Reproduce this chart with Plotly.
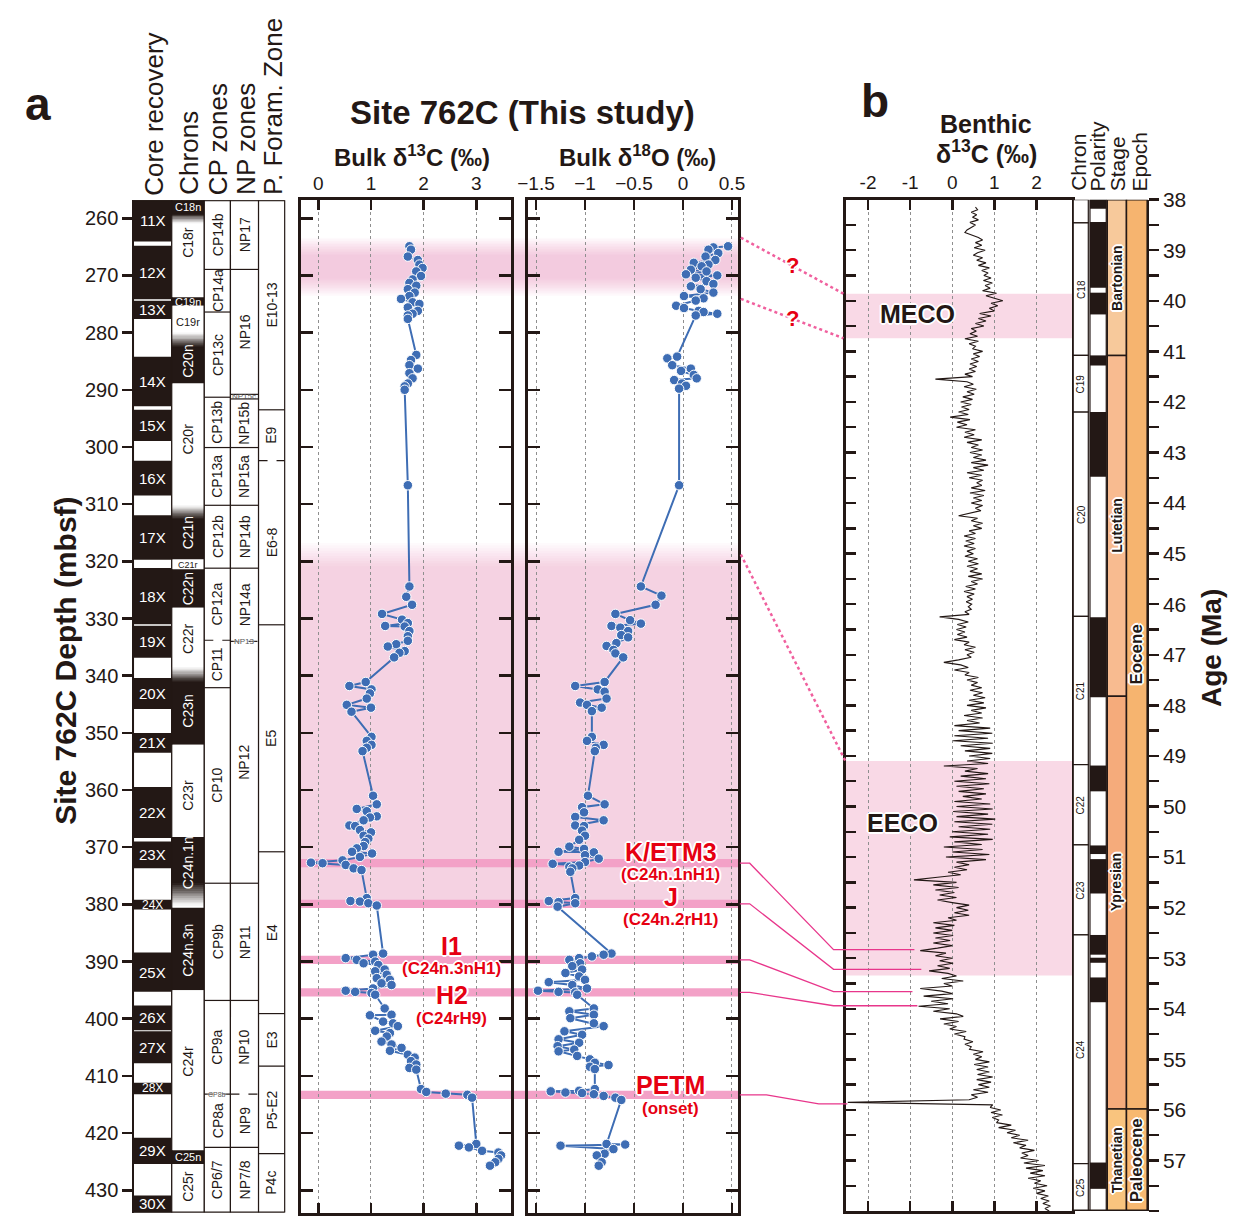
import plotly.graph_objects as go

W, H = 1239, 1220
FONT = "Liberation Sans, Arial, sans-serif"
K = "#231815"
BLUE = "#3e6db4"
RED = "#e60012"
LINK = "#e8368b"
DOTC = "#f0609e"

# ---------------- data : panel a (Site 762C) ----------------
c13_depth = [264.9, 265.5, 266.7, 267.3, 268.1, 268.7, 269.3, 270.1, 270.7, 271.3, 271.8, 272.4, 273.0, 273.6, 274.1, 274.7, 275.0, 275.6, 276.2, 276.7, 277.0, 277.6,
             283.9, 284.8, 285.7, 286.3, 287.1, 288.0, 288.9, 289.4, 290.0, 306.7,
             324.4, 326.2, 327.6, 329.2, 330.2, 330.8, 331.3, 331.4, 332.2, 333.1, 333.9, 334.5, 334.9, 335.7, 336.0, 336.8,
             341.1, 341.8, 342.4, 343.1, 344.0, 345.1, 345.6, 346.3, 350.7, 351.4, 352.1, 352.6, 353.2,
             361.0, 362.5, 363.3, 363.7, 364.6, 364.8, 365.3, 366.2, 366.3, 367.0, 367.4, 368.0, 368.5, 369.1, 369.8, 370.2, 370.8, 371.1, 371.7, 372.3, 372.7, 372.8, 373.1, 373.7, 374.0,
             378.9, 379.4, 379.5, 379.8, 380.2,
             388.6, 388.8, 389.4, 389.7, 390.0, 390.3, 390.6, 391.4, 391.7, 392.3, 392.9, 393.2, 393.8, 394.1, 394.7, 395.1, 395.3, 395.5, 395.8,
             398.2, 399.3, 399.4, 400.5, 400.8, 401.3, 402.1, 402.5, 403.1, 404.0, 404.5, 405.1, 405.6, 406.3, 406.8, 407.4, 408.0, 408.6, 408.9,
             412.3, 412.8, 413.1, 413.3, 413.8,
             421.9, 422.2, 422.5, 423.1, 423.4, 423.9, 424.5, 425.1, 425.7]
c13_value = [1.73, 1.76, 1.70, 1.89, 1.92, 1.98, 1.86, 1.95, 1.79, 1.73, 1.86, 1.70, 1.83, 1.73, 1.57, 1.79, 1.92, 1.70, 1.89, 1.79, 1.70, 1.70,
             1.86, 1.76, 1.73, 1.89, 1.73, 1.79, 1.70, 1.64, 1.64, 1.70,
             1.73, 1.67, 1.78, 1.21, 1.59, 1.70, 1.27, 1.64, 1.73, 1.70, 1.70, 1.48, 1.32, 1.64, 1.54, 1.44,
             0.90, 0.59, 1.01, 0.98, 0.92, 0.54, 1.00, 0.63, 1.01, 0.92, 1.01, 0.92, 0.84,
             1.04, 1.11, 0.73, 0.92, 1.11, 0.98, 0.86, 0.59, 0.70, 0.79, 1.00, 0.86, 0.95, 0.89, 0.86, 0.73, 0.64, 1.02, 0.79, 0.46, -0.14, 0.08, 0.52, 0.67, 0.82,
             0.92, 0.61, 0.79, 0.95, 1.11,
             1.23, 1.04, 0.52, 0.73, 1.08, 0.86, 1.14, 1.26, 1.08, 1.30, 1.11, 1.36, 1.20, 1.39, 1.04, 0.52, 0.70, 1.01, 1.08,
             1.26, 1.39, 0.98, 1.23, 1.42, 1.51, 1.08, 1.36, 1.30, 1.20, 1.39, 1.58, 1.36, 1.70, 1.83, 1.76, 1.86, 1.73, 1.86,
             1.95, 2.05, 2.42, 2.83, 2.92,
             3.00, 2.67, 2.86, 3.11, 3.42, 3.47, 3.42, 3.36, 3.26]

o18_depth = [264.9, 265.1, 265.5, 266.1, 266.7, 267.3, 267.8, 268.1, 268.4, 269.0, 269.3, 269.8, 270.0, 270.4, 271.0, 271.5, 271.9, 272.4, 273.0, 273.6, 274.0, 274.4, 275.3, 275.7, 276.2, 276.4, 276.7, 277.0,
             284.2, 284.5, 285.7, 286.3, 286.7, 287.4, 288.0, 288.3, 288.9, 289.3, 289.8, 306.7,
             324.4, 326.0, 327.6, 329.2, 330.3, 330.9, 331.3, 331.6, 332.2, 332.9, 333.3, 334.3, 334.8, 335.5, 336.1, 336.8,
             341.1, 341.8, 342.4, 342.8, 344.0, 344.7, 345.1, 345.6, 346.2, 350.7, 351.4, 352.1, 352.6, 353.2,
             361.0, 362.5, 363.0, 363.9, 364.7, 365.3, 366.2, 366.3, 367.1, 368.0, 368.7, 369.9, 370.3, 370.8, 370.9, 371.4, 372.0, 372.6, 372.9, 373.2, 373.4, 373.7, 374.3,
             378.9, 379.4, 379.6, 379.8, 380.4,
             388.6, 388.8, 389.1, 389.4, 389.7, 390.3, 390.8, 391.4, 392.0, 392.6, 393.2, 393.6, 394.1, 394.7, 395.1, 395.3, 395.4, 395.8,
             398.2, 398.7, 399.3, 399.9, 400.8, 401.3, 402.2, 402.8, 403.6, 404.2, 404.8, 405.4, 405.7, 406.5, 407.1, 407.7, 408.1, 408.4, 408.8,
             412.3, 412.6, 412.7, 412.9, 413.0, 413.2, 413.5, 413.8, 414.2,
             421.9, 422.0, 422.2, 422.8, 423.6, 423.9, 425.1, 425.7]
o18_value = [0.46, 0.31, 0.26, 0.36, 0.23, 0.33, 0.11, 0.26, 0.19, 0.08, 0.24, 0.03, 0.35, 0.13, 0.24, 0.31, 0.08, 0.18, 0.31, 0.01, 0.21, 0.13, -0.07, 0.01, 0.16, 0.21, 0.35, 0.13,
             -0.06, -0.16, -0.11, 0.08, -0.02, 0.11, 0.14, -0.09, -0.01, 0.03, -0.04, -0.04,
             -0.43, -0.22, -0.28, -0.69, -0.54, -0.43, -0.73, -0.64, -0.56, -0.63, -0.56, -0.68, -0.78, -0.71, -0.69, -0.61,
             -0.80, -1.10, -0.87, -0.80, -0.78, -1.05, -0.98, -0.83, -0.93, -0.93, -0.98, -0.81, -0.89, -0.90,
             -0.97, -0.80, -1.03, -1.01, -1.10, -0.81, -1.10, -1.01, -1.03, -1.00, -1.06, -1.16, -1.01, -1.27, -0.91, -1.00, -0.86, -1.00, -1.33, -1.06, -1.16, -1.13, -1.15,
             -1.10, -1.37, -1.27, -1.10, -1.28,
             -0.73, -0.81, -0.93, -1.06, -1.16, -1.05, -1.13, -1.03, -1.20, -1.06, -1.00, -1.37, -1.13, -0.98, -1.48, -1.27, -1.10, -1.08,
             -0.91, -1.16, -0.91, -1.15, -0.91, -0.81, -1.21, -1.03, -1.27, -1.06, -1.28, -1.11, -1.27, -1.08, -0.95, -0.90, -0.76, -0.95, -0.90,
             -0.90, -1.06, -1.35, -1.20, -1.03, -0.91, -0.81, -0.69, -0.63,
             -0.78, -0.59, -1.25, -0.71, -0.80, -0.88, -0.83, -0.86]

# ---------------- data : panel b (benthic d13C vs age, Ma) ----------------
ben_age = [38.15, 38.20, 38.25, 38.30, 38.35, 38.40, 38.45, 38.50, 38.55, 38.60,
           38.65, 38.70, 38.75, 38.80, 38.85, 38.90, 38.95, 39.00, 39.05, 39.10,
           39.15, 39.20, 39.25, 39.30, 39.35, 39.40, 39.45, 39.50, 39.55, 39.60,
           39.65, 39.70, 39.75, 39.80, 39.85, 39.90, 39.95, 40.00, 40.05, 40.10,
           40.15, 40.20, 40.25, 40.30, 40.35, 40.40, 40.45, 40.50, 40.55, 40.60,
           40.65, 40.70, 40.75, 40.80, 40.85, 40.90, 40.95, 41.00, 41.05, 41.10,
           41.15, 41.20, 41.25, 41.30, 41.35, 41.40, 41.45, 41.50, 41.55, 41.60,
           41.65, 41.70, 41.75, 41.80, 41.85, 41.90, 41.95, 42.00, 42.05, 42.10,
           42.15, 42.20, 42.25, 42.30, 42.35, 42.40, 42.45, 42.50, 42.55, 42.60,
           42.65, 42.70, 42.75, 42.80, 42.85, 42.90, 42.95, 43.00, 43.05, 43.10,
           43.15, 43.20, 43.25, 43.30, 43.35, 43.40, 43.45, 43.50, 43.55, 43.60,
           43.65, 43.70, 43.75, 43.80, 43.85, 43.90, 43.95, 44.00, 44.05, 44.10,
           44.15, 44.20, 44.25, 44.30, 44.35, 44.40, 44.45, 44.50, 44.55, 44.60,
           44.65, 44.70, 44.75, 44.80, 44.85, 44.90, 44.95, 45.00, 45.05, 45.10,
           45.15, 45.20, 45.25, 45.30, 45.35, 45.40, 45.45, 45.50, 45.55, 45.60,
           45.65, 45.70, 45.75, 45.80, 45.85, 45.90, 45.95, 46.00, 46.05, 46.10,
           46.15, 46.20, 46.25, 46.30, 46.35, 46.40, 46.45, 46.50, 46.55, 46.60,
           46.65, 46.70, 46.75, 46.80, 46.85, 46.90, 46.95, 47.00, 47.05, 47.10,
           47.15, 47.20, 47.25, 47.30, 47.35, 47.40, 47.45, 47.50, 47.55, 47.60,
           47.65, 47.70, 47.75, 47.80, 47.85, 47.90, 47.95, 48.00, 48.05, 48.10,
           48.15, 48.20, 48.25, 48.30, 48.35, 48.40, 48.45, 48.50, 48.55, 48.60,
           48.65, 48.70, 48.75, 48.80, 48.85, 48.90, 48.95, 49.00, 49.05, 49.10,
           49.15, 49.20, 49.25, 49.30, 49.35, 49.40, 49.45, 49.50, 49.55, 49.60,
           49.65, 49.70, 49.75, 49.80, 49.85, 49.90, 49.95, 50.00, 50.05, 50.10,
           50.15, 50.20, 50.25, 50.30, 50.35, 50.40, 50.45, 50.50, 50.55, 50.60,
           50.65, 50.70, 50.75, 50.80, 50.85, 50.90, 50.95, 51.00, 51.05, 51.10,
           51.15, 51.20, 51.25, 51.30, 51.35, 51.40, 51.45, 51.50, 51.55, 51.60,
           51.65, 51.70, 51.75, 51.80, 51.85, 51.90, 51.95, 52.00, 52.05, 52.10,
           52.15, 52.20, 52.25, 52.30, 52.35, 52.40, 52.45, 52.50, 52.55, 52.60,
           52.65, 52.70, 52.75, 52.80, 52.85, 52.90, 52.95, 53.00, 53.05, 53.10,
           53.15, 53.20, 53.25, 53.30, 53.35, 53.40, 53.45, 53.50, 53.55, 53.60,
           53.65, 53.70, 53.75, 53.80, 53.85, 53.90, 53.95, 54.00, 54.05, 54.10,
           54.15, 54.20, 54.25, 54.30, 54.35, 54.40, 54.45, 54.50, 54.55, 54.60,
           54.65, 54.70, 54.75, 54.80, 54.85, 54.90, 54.95, 55.00, 55.05, 55.10,
           55.15, 55.20, 55.25, 55.30, 55.35, 55.40, 55.45, 55.50, 55.55, 55.60,
           55.65, 55.70, 55.75, 55.80, 55.85, 55.90, 55.95, 56.00, 56.05, 56.10,
           56.15, 56.20, 56.25, 56.30, 56.35, 56.40, 56.45, 56.50, 56.55, 56.60,
           56.65, 56.70, 56.75, 56.80, 56.85, 56.90, 56.95, 57.00, 57.05, 57.10,
           57.15, 57.20, 57.25, 57.30, 57.35, 57.40, 57.45, 57.50, 57.55, 57.60,
           57.65, 57.70, 57.75, 57.80, 57.85, 57.90, 57.95, 58.00]
ben_value = [0.55, 0.60, 0.45, 0.58, 0.48, 0.62, 0.42, 0.55, 0.45, 0.35,
             0.30, 0.45, 0.62, 0.72, 0.55, 0.70, 0.52, 0.78, 0.60, 0.50,
             0.72, 0.58, 0.80, 0.62, 0.88, 0.70, 0.85, 0.75, 0.92, 0.74,
             0.95, 0.78, 0.90, 0.72, 1.05, 0.80, 0.98, 1.20, 0.92, 1.08,
             0.88, 1.00, 0.65, 0.92, 0.62, 0.80, 0.55, 0.75, 0.45, 0.57,
             0.42, 0.60, 0.30, 0.62, 0.40, 0.55, 0.48, 0.72, 0.50, 0.65,
             0.45, 0.62, 0.42, 0.58, 0.40, 0.55, 0.30, 0.48, -0.40, 0.35,
             0.50, 0.28, 0.57, 0.35, 0.52, 0.25, 0.48, 0.20, 0.45, 0.22,
             0.40, 0.15, 0.38, -0.05, 0.42, 0.12, 0.35, 0.10, 0.55, 0.30,
             0.52, 0.28, 0.70, 0.35, 0.62, 0.45, 0.72, 0.42, 0.70, 0.50,
             0.80, 0.45, 0.85, 0.50, 0.75, 0.35, 0.70, 0.40, 0.72, 0.58,
             0.70, 0.45, 0.78, 0.42, 0.75, 0.50, 0.70, 0.45, 0.72, 0.55,
             0.68, 0.42, 0.15, 0.60, 0.45, 0.72, 0.50, 0.70, 0.40, 0.55,
             0.28, 0.55, 0.32, 0.52, 0.28, 0.55, 0.35, 0.50, 0.30, 0.60,
             0.38, 0.62, 0.35, 0.60, 0.42, 0.70, 0.38, 0.72, 0.45, 0.60,
             0.32, 0.55, 0.28, 0.52, 0.35, 0.48, 0.33, 0.46, 0.38, 0.45,
             0.30, 0.40, -0.30, 0.15, 0.38, 0.12, 0.33, 0.10, 0.30, 0.12,
             0.35, 0.05, 0.40, 0.28, 0.55, 0.30, 0.52, 0.35, 0.45, 0.15,
             -0.20, 0.20, 0.38, 0.05, 0.40, 0.30, 0.62, 0.35, 0.60, 0.45,
             0.70, 0.42, 0.72, 0.50, 0.78, 0.40, 0.75, 0.35, 0.80, 0.45,
             0.70, 0.28, 0.72, 0.35, 0.65, 0.05, 0.90, 0.15, 0.95, 0.05,
             0.85, 0.02, 0.96, 0.20, 0.90, 0.30, 0.95, 0.40, 0.90, 0.35,
             0.85, -0.20, 0.60, 0.30, 0.85, 0.20, 0.80, 0.05, 0.88, 0.10,
             0.75, 0.15, 0.80, 0.25, 0.70, 0.05, 0.90, 0.10, 0.96, 0.02,
             0.85, 0.10, 1.02, 0.05, 0.95, 0.15, 0.90, 0.00, 0.85, -0.06,
             0.96, 0.05, 0.70, -0.20, 0.72, 0.00, 0.88, -0.15, 0.80, 0.10,
             0.40, 0.05, 0.35, -0.10, 0.20, -0.35, -0.91, 0.10, -0.45, 0.15,
             -0.40, 0.05, -0.30, 0.10, -0.35, 0.00, 0.40, 0.10, 0.38, 0.05,
             0.40, -0.10, 0.10, -0.45, 0.05, -0.40, 0.00, -0.45, 0.02, -0.40,
             -0.05, -0.45, 0.00, -0.35, -0.76, -0.15, -0.40, 0.00, -0.30, 0.02,
             -0.35, -0.06, -0.55, -0.10, 0.10, -0.25, 0.26, -0.20, 0.00, -0.76,
             -0.25, 0.00, -0.68, 0.02, -0.50, -0.10, -0.80, -0.06, -0.45, 0.10,
             0.26, -0.29, 0.15, -0.20, 0.10, -0.06, 0.33, 0.05, 0.30, 0.28,
             0.49, 0.30, 0.45, 0.41, 0.73, 0.50, 0.70, 0.55, 0.88, 0.52,
             0.85, 0.58, 0.88, 0.60, 0.96, 0.58, 0.92, 0.62, 0.88, 0.50,
             0.85, 0.45, 0.60, 0.40, -2.48, 0.96, 0.90, 1.15, 0.92, 1.19,
             0.95, 1.10, 1.05, 1.40, 1.10, 1.50, 1.30, 1.60, 1.40, 1.80,
             1.45, 1.75, 1.60, 1.95, 1.65, 1.80, 1.62, 2.05, 1.70, 2.20,
             1.75, 2.15, 1.85, 2.20, 1.80, 2.10, 1.95, 2.25, 1.92, 2.20,
             2.00, 2.28, 2.10, 2.30, 2.15, 2.33, 2.20, 2.30]

# ---------------- stratigraphy (depth, mbsf) ----------------
core_names = ["11X", "12X", "13X", "14X", "15X", "16X", "17X", "18X", "19X", "20X",
              "21X", "22X", "23X", "24X", "25X", "26X", "27X", "28X", "29X", "30X"]
core_top = [256.83, 264.8, 274.44, 284.24, 293.49, 302.42, 311.95, 321.19, 331.29, 340.42,
            350.04, 359.46, 369.0, 379.2, 388.4, 397.7, 402.2, 411.2, 420.8, 430.9]
core_bot = [264.05, 274.15, 277.61, 292.9, 298.96, 308.48, 319.74, 331.0, 336.88, 345.84,
            353.5, 368.4, 373.7, 380.9, 395.3, 402.0, 407.8, 413.2, 425.4, 433.9]

chron_a_names = ["C18n", "C18r", "C19n", "C19r", "C20n", "C20r", "C21n", "C21r", "C22n", "C22r",
                 "C23n", "C23r", "C24n.1n", "", "C24n.3n", "C24r", "C25n", "C25r"]
chron_a_top = [256.83, 259.6, 273.8, 275.3, 281.2, 288.9, 311.3, 319.7, 321.4, 328.1,
               339.8, 352.1, 368.2, 378.3, 380.6, 395.0, 423.0, 425.4]
chron_a_normal = [1, 0, 1, 0, 1, 0, 1, 0, 1, 0, 1, 0, 1, 0, 1, 0, 1, 0]
chron_a_label_depth = [258.1, 264.3, 274.6, 278.1, 285.1, 298.7, 315.1, 320.6, 324.9, 333.6,
                       346.3, 361.0, 372.8, None, 388.1, 407.5, 424.2, 429.4]
chron_a_blur = [(259.3, 260.9), (282.5, 280.0), (312.6, 310.2), (341.1, 338.5), (376.3, 380.2)]

cp_names = ["CP14b", "CP14a", "CP13c", "CP13b", "CP13a", "CP12b", "CP12a", "CP11", "CP10",
            "CP9b", "CP9a", "CP8a", "CP6/7"]
cp_top = [256.83, 268.95, 276.4, 291.3, 300.1, 310.2, 321.2, 333.8, 342.1, 376.3, 396.8, 413.2, 422.5]
cp_dashed = ["CP11", "CP8a"]

np_names = ["NP17", "NP16", "NP15c", "NP15b", "NP15a", "NP14b", "NP14a", "NP12", "NP11", "NP10", "NP9", "NP7/8"]
np_top = [256.83, 268.95, 290.8, 291.6, 300.1, 310.2, 321.2, 334.0, 376.3, 396.8, 413.2, 422.5]
np_dashed = ["NP12", "NP9"]

pf_names = ["E10-13", "E9", "E6-8", "E5", "E4", "E3", "P5-E2", "P4c"]
pf_top = [256.83, 293.5, 302.4, 331.1, 370.8, 399.1, 408.3, 423.6]
pf_dashed = ["E6-8"]

# ---------------- stratigraphy (age, Ma) ----------------
chron_b_names = ["", "C18", "C19", "C20", "C21", "C22", "C23", "C24", "C25"]
chron_b_top = [38.0, 38.46, 41.08, 42.2, 46.24, 49.17, 50.76, 52.54, 57.06]
pol_black_top = [38.0, 38.44, 39.84, 41.08, 42.2, 46.26, 49.19, 50.77, 51.04, 52.54, 52.99, 53.38, 57.04]
pol_black_bot = [38.18, 39.74, 40.27, 41.28, 43.48, 47.84, 49.70, 50.94, 51.72, 52.93, 53.09, 53.87, 57.56]
stage_names = ["Bartonian", "Lutetian", "Ypresian", "Thanetian"]
stage_top = [38.0, 41.08, 47.82, 55.98]
stage_label_age = [39.55, 44.45, 51.5, 57.0]
stage_colors = ["#f7c99b", "#f8bb90", "#f5ab7b", "#f9c47e"]
epoch_names = ["Eocene", "Paleocene"]
epoch_top = [38.0, 55.98]
epoch_label_age = [47.0, 57.0]
epoch_colors = ["#f6b46f", "#f8b870"]

# ---------------- events / intervals ----------------
ev_names = ["K/ETM3", "J", "I1", "H2", "PETM"]
ev_sub = ["(C24n.1nH1)", "(C24n.2rH1)", "(C24n.3nH1)", "(C24rH9)", "(onset)"]
ev_depth = [372.8, 379.9, 389.7, 395.4, 413.3]
ev_age = [52.83, 53.22, 53.66, 53.94, 55.88]
top_band_depth = (263.4, 273.6)
lower_band_depth = (318.8, 380.3)
meco_age = (39.86, 40.74)
eeco_age = (49.1, 53.34)
dot_link_depth = [263.4, 274.1, 318.8]
dot_link_age = [39.86, 40.74, 49.1]

# ---------------- geometry helpers ----------------
DEP = (256.83, 433.9); DEP_PX = (190.0, 1212.5)
AGE = (38.0, 58.0); AGE_PX = (189.5, 1211.0)


def px(x):
    return x / W


def py(y):
    return 1 - y / H


def d2px(d):
    return DEP_PX[0] + (d - DEP[0]) / (DEP[1] - DEP[0]) * (DEP_PX[1] - DEP_PX[0])


def a2px(a):
    return AGE_PX[0] + (a - AGE[0]) / (AGE[1] - AGE[0]) * (AGE_PX[1] - AGE_PX[0])


shapes = []
annotations = []
OUTLINE = ("1px 1px 0 #fff, -1px -1px 0 #fff, 1px -1px 0 #fff, -1px 1px 0 #fff, "
           "0 2px 0 #fff, 0 -2px 0 #fff, 2px 0 0 #fff, -2px 0 0 #fff")


def rect(x0, x1, y0, y1, yref, fill, lc=None, lw=0, layer="above"):
    shapes.append(dict(type="rect", xref="paper", yref=yref, x0=px(x0), x1=px(x1), y0=y0, y1=y1,
                       fillcolor=fill, line=dict(color=lc if lc else fill, width=lw), layer=layer))


def hline(x0, x1, yv, yref, color=K, width=1.2, dash="solid", layer="above"):
    shapes.append(dict(type="line", xref="paper", yref=yref, x0=px(x0), x1=px(x1), y0=yv, y1=yv,
                       line=dict(color=color, width=width, dash=dash), layer=layer))


def path_px(points, color, width, dash="solid"):
    p = "M " + " L ".join(f"{px(x):.5f},{py(y):.5f}" for x, y in points)
    shapes.append(dict(type="path", xref="paper", yref="paper", path=p,
                       line=dict(color=color, width=width, dash=dash), layer="above"))


def ann(x, y, text, size, color=K, bold=False, angle=0, xanchor="center", yanchor="middle",
        shadow=None):
    f = dict(family=FONT, size=size, color=color, weight="bold" if bold else "normal")
    if shadow:
        f["shadow"] = shadow
    annotations.append(dict(x=px(x), y=py(y), xref="paper", yref="paper",
                            text=text, showarrow=False, textangle=angle, xanchor=xanchor,
                            yanchor=yanchor, font=f, borderpad=0))


def mix(t):
    # t=0 black, t=1 white
    r = int(35 + (255 - 35) * t); g = int(24 + (255 - 24) * t); b = int(21 + (255 - 21) * t)
    return f"rgb({r},{g},{b})"


# ---------------- pink intervals (below) ----------------
XA0, XA1 = 295, 738
t0, t1 = top_band_depth
for i in range(12):
    inset = i * 0.28
    rect(XA0, XA1, t0 + inset, t1 - inset, "y", "rgba(238,140,185,0.043)", layer="below")
l0, l1 = lower_band_depth
for i in range(10):
    rect(XA0, XA1, l0 - 2.0 + i * 0.45, l1, "y", "rgba(238,140,185,0.039)", layer="below")
for d in ev_depth:
    rect(XA0, XA1 + 2, d - 0.72, d + 0.72, "y", "#f3a1c7", layer="below")
XB0, XB1 = 847.3, 1076.7
rect(XB0, XB1, meco_age[0], meco_age[1], "y3", "#f9d9e6", layer="below")
rect(XB0, XB1, eeco_age[0], eeco_age[1], "y3", "#f9d9e6", layer="below")

# ---------------- left stratigraphic columns ----------------
XC = (125, 164); XCH = (164, 197); XCP = (197, 223.5); XNP = (223.5, 252); XPF = (252, 278.5)
rect(XC[0], XC[1], DEP[0], DEP[1], "y", "white")
for name, tp, bt in zip(core_names, core_top, core_bot):
    rect(XC[0], XC[1], tp, bt, "y", K)
    fs = 12 if (bt - tp) < 2.5 else 15
    ann((XC[0] + XC[1]) / 2, d2px((tp + bt) / 2), name, fs, color="white")
rect(XC[0], XC[1], DEP[0], DEP[1], "y", "rgba(0,0,0,0)", K, 1.5)

ch_bot = chron_a_top[1:] + [DEP[1]]
for tp, bt, nrm in zip(chron_a_top, ch_bot, chron_a_normal):
    rect(XCH[0], XCH[1], tp, bt, "y", K if nrm else "white")
for da, db in chron_a_blur:
    n = 12
    for i in range(n):
        y0 = da + (db - da) * i / n
        y1 = da + (db - da) * (i + 1) / n
        rect(XCH[0], XCH[1], min(y0, y1) - 0.02, max(y0, y1) + 0.02, "y", mix((i + 0.5) / n))
rect(XCH[0], XCH[1], DEP[0], DEP[1], "y", "rgba(0,0,0,0)", K, 1.2)
xc_mid = (XCH[0] + XCH[1]) / 2
for name, dl, nrm in zip(chron_a_names, chron_a_label_depth, chron_a_normal):
    if not name:
        continue
    col = "white" if nrm else K
    if name in ("C18n", "C19n", "C25n"):
        ann(xc_mid, d2px(dl), name, 11, color=col)
    elif name == "C19r":
        ann(xc_mid, d2px(dl), name, 11, color=K)
    elif name == "C21r":
        ann(xc_mid, d2px(dl), name, 9, color=K)
    else:
        ann(xc_mid, d2px(dl), name, 14, color=col, angle=-90)


def zone_column(xr, names, tops, dashed, small):
    bots = tops[1:] + [DEP[1]]
    rect(xr[0], xr[1], DEP[0], DEP[1], "y", "white", K, 1.2)
    xm = (xr[0] + xr[1]) / 2
    for nm, tp, bt in zip(names, tops, bots):
        if tp > DEP[0] + 0.1:
            hline(xr[0], xr[1], tp, "y", dash="dash" if nm in dashed else "solid")
        if nm in small:
            continue
        ann(xm, d2px((tp + bt) / 2), nm, 14, angle=-90)


zone_column(XCP, cp_names, cp_top, cp_dashed, [])
zone_column(XNP, np_names, np_top, np_dashed, ["NP15c"])
zone_column(XPF, pf_names, pf_top, pf_dashed, [])
ann((XNP[0] + XNP[1]) / 2, d2px(291.2), "NP15c", 8, color="#555")
ann((XNP[0] + XNP[1]) / 2, d2px(334.0), "NP13", 8, color="#555", shadow="0 0 2px #fff, 0 0 2px #fff")
ann((XCP[0] + XCP[1]) / 2, d2px(413.2), "CP8b", 7, color="#555", shadow="0 0 2px #fff, 0 0 2px #fff")
hline(XC[0], XPF[1], DEP[0], "y", width=2)
hline(XC[0], XPF[1], DEP[1], "y", width=2)

# ---------------- right stratigraphic columns ----------------
XRC = (1078, 1093.3); XPO = (1095, 1111.5); XST = (1112.5, 1132); XEP = (1132, 1153)
cb_bot = chron_b_top[1:] + [AGE[1]]
for nm, tp, bt in zip(chron_b_names, chron_b_top, cb_bot):
    rect(XRC[0], XRC[1], tp, bt, "y3", "white", K, 1.2)
    if nm:
        ann((XRC[0] + XRC[1]) / 2, a2px((tp + bt) / 2), nm, 10, angle=-90)
rect(XPO[0], XPO[1], AGE[0], AGE[1], "y3", "white")
for tp, bt in zip(pol_black_top, pol_black_bot):
    rect(XPO[0], XPO[1], tp, bt, "y3", K)
rect(XPO[0], XPO[1], AGE[0], AGE[1], "y3", "rgba(0,0,0,0)", K, 1.2)
st_bot = stage_top[1:] + [AGE[1]]
for nm, tp, bt, la, colr in zip(stage_names, stage_top, st_bot, stage_label_age, stage_colors):
    rect(XST[0], XST[1], tp, bt, "y3", colr, K, 1.5)
    ann((XST[0] + XST[1]) / 2, a2px(la), nm, 14, bold=True, angle=-90, shadow=OUTLINE)
ep_bot = epoch_top[1:] + [AGE[1]]
for nm, tp, bt, la, colr in zip(epoch_names, epoch_top, ep_bot, epoch_label_age, epoch_colors):
    rect(XEP[0], XEP[1], tp, bt, "y3", colr, K, 1.5)
    ann((XEP[0] + XEP[1]) / 2, a2px(la), nm, 17, bold=True, angle=-90, shadow=OUTLINE)
hline(XB1, 1153, AGE[1], "y3", width=3)

# ---------------- links between panels ----------------
link_x = [(750, 835, 917), (750, 835, 924), (750, 835, 915), (750, 835, 920), (767, 820, 849)]
for d, a, (xa, xb, xe) in zip(ev_depth, ev_age, link_x):
    yd = d2px(d); ya = a2px(a)
    path_px([(740, yd), (xa, yd), (xb, ya), (xe, ya)], LINK, 1.3)
dot_end_x = [845, 845, 847]
for d, a, xe in zip(dot_link_depth, dot_link_age, dot_end_x):
    path_px([(741, d2px(d)), (xe, a2px(a))], DOTC, 2.5, "dot")
for d, a, xe in zip(dot_link_depth[:2], dot_link_age[:2], dot_end_x[:2]):
    ym = (d2px(d) + a2px(a)) / 2
    ann(793, ym, "?", 22, color=RED, bold=True, shadow=OUTLINE)

# ---------------- event labels ----------------
ev_label_x = [670, 670, 448, 448, 670]
ev_label_y = [848, 894, 943, 993, 1084]
for nm, sb, lx, ly in zip(ev_names, ev_sub, ev_label_x, ev_label_y):
    ann(lx, ly, nm, 25, color=RED, bold=True, shadow=OUTLINE)
    ann(lx, ly + 23, sb, 17, color=RED, bold=True, shadow=OUTLINE)
ann(920, a2px(sum(meco_age) / 2) - 2, "MECO", 25, bold=True, shadow=OUTLINE)
ann(905, 819, "EECO", 25, bold=True, shadow=OUTLINE)

# ---------------- titles / headers ----------------
ann(28, 93, "a", 46, bold=True)
ann(877, 90, "b", 46, bold=True)
ann(520, 101, "Site 762C (This study)", 33, bold=True)
ann(408, 145, "Bulk δ<sup>13</sup>C (‰)", 24, bold=True)
ann(636, 145, "Bulk δ<sup>18</sup>O (‰)", 24, bold=True)
ann(990, 113, "Benthic", 25, bold=True)
ann(990, 141, "δ<sup>13</sup>C (‰)", 25, bold=True)
for txt, xx in zip(["Core recovery", "Chrons", "CP zones", "NP zones", "P. Foram. Zone"],
                   [146, 182, 211, 239, 266]):
    ann(xx, 186, txt, 26, angle=-90, yanchor="bottom")
for txt, xx in zip(["Chron", "Polarity", "Stage", "Epoch"], [1084, 1103, 1123, 1145]):
    ann(xx, 182, txt, 21, angle=-90, yanchor="bottom")
ann(56, 655, "Site 762C Depth (mbsf)", 30, bold=True, angle=-90)
ann(1218, 642, "Age (Ma)", 28, bold=True, angle=-90)

# ---------------- figure ----------------
fig = go.Figure()
mk = dict(size=9.5, color=BLUE, line=dict(color="white", width=1))
fig.add_trace(go.Scatter(x=c13_value, y=c13_depth, xaxis="x", yaxis="y", mode="lines+markers",
                         line=dict(color=BLUE, width=2), marker=mk, showlegend=False, hoverinfo="skip"))
fig.add_trace(go.Scatter(x=o18_value, y=o18_depth, xaxis="x2", yaxis="y2", mode="lines+markers",
                         line=dict(color=BLUE, width=2), marker=mk, showlegend=False, hoverinfo="skip"))
fig.add_trace(go.Scatter(x=ben_value, y=ben_age, xaxis="x3", yaxis="y3", mode="lines",
                         line=dict(color=K, width=1.1), showlegend=False, hoverinfo="skip"))
fig.add_trace(go.Scatter(x=[None], y=[None], xaxis="x", yaxis="y5", showlegend=False, hoverinfo="skip"))
fig.add_trace(go.Scatter(x=[None], y=[None], xaxis="x3", yaxis="y4", showlegend=False, hoverinfo="skip"))

tickfont = dict(family=FONT, size=19, color=K)
base = dict(showline=True, linecolor=K, linewidth=3, ticks="inside", tickcolor=K, tickwidth=2.5,
            zeroline=False, tickfont=tickfont, fixedrange=True)
grid = dict(showgrid=True, gridcolor="#8f8f8f", griddash="dot", gridwidth=1)
dep_dom = [py(DEP_PX[1]), py(DEP_PX[0])]
age_dom = [py(AGE_PX[1]), py(AGE_PX[0])]
dep_ticks = list(range(260, 431, 10))
age_ticks = [38 + 0.5 * i for i in range(41)]
age_major = list(range(38, 59))

layout = dict(
    width=W, height=H, autosize=False, margin=dict(l=0, r=0, t=0, b=0),
    paper_bgcolor="white", plot_bgcolor="rgba(0,0,0,0)", showlegend=False,
    font=dict(family=FONT, color=K),
    xaxis=dict(base, **grid, domain=[px(295), px(508)], range=[-0.33, 3.66], anchor="y", side="top",
               tickvals=[0, 1, 2, 3], mirror="ticks", ticklen=10),
    yaxis=dict(base, domain=dep_dom, range=[DEP[1], DEP[0]], anchor="x", tickvals=dep_ticks,
               showticklabels=False, ticklen=12, mirror="ticks", showgrid=False),
    xaxis2=dict(base, **grid, domain=[px(525), px(738)], range=[-1.584, 0.56], anchor="y2", side="top",
                tickvals=[-1.5, -1, -0.5, 0, 0.5], ticktext=["−1.5", "−1", "−0.5", "0", "0.5"],
                mirror="ticks", ticklen=10),
    yaxis2=dict(base, domain=dep_dom, range=[DEP[1], DEP[0]], anchor="x2", tickvals=dep_ticks,
                showticklabels=False, ticklen=12, mirror="ticks", showgrid=False),
    xaxis3=dict(base, **grid, domain=[px(XB0), px(XB1)], range=[-2.53, 2.84], anchor="y3", side="top",
                tickvals=[-2, -1, 0, 1, 2], ticktext=["-2", "-1", "0", "1", "2"], mirror="ticks", ticklen=10),
    yaxis3=dict(base, domain=age_dom, range=[AGE[1], AGE[0]], anchor="x3", tickvals=age_ticks,
                showticklabels=False, ticklen=10, mirror=True, showgrid=False),
    yaxis4=dict(base, overlaying="y3", anchor="free", position=px(1153), side="right",
                range=[AGE[1], AGE[0]], tickvals=age_major, ticks="outside", ticklen=10,
                showgrid=False, linewidth=2.5, tickfont=dict(family=FONT, size=21, color=K),
                minor=dict(tickvals=age_ticks, ticks="outside", ticklen=10, tickwidth=2.5, tickcolor=K,
                           showgrid=False)),
    yaxis5=dict(base, overlaying="y", anchor="free", position=px(125), side="left",
                range=[DEP[1], DEP[0]], tickvals=dep_ticks, ticks="outside", ticklen=10,
                showgrid=False, linewidth=2, tickfont=dict(family=FONT, size=20, color=K)),
    shapes=shapes, annotations=annotations,
)
fig.update_layout(**layout)
fig.write_html("out.html", config={"displayModeBar": False, "staticPlot": True},
               post_script="document.body.style.margin='0';document.body.style.padding='0';"
                           "document.body.style.overflow='hidden';")
